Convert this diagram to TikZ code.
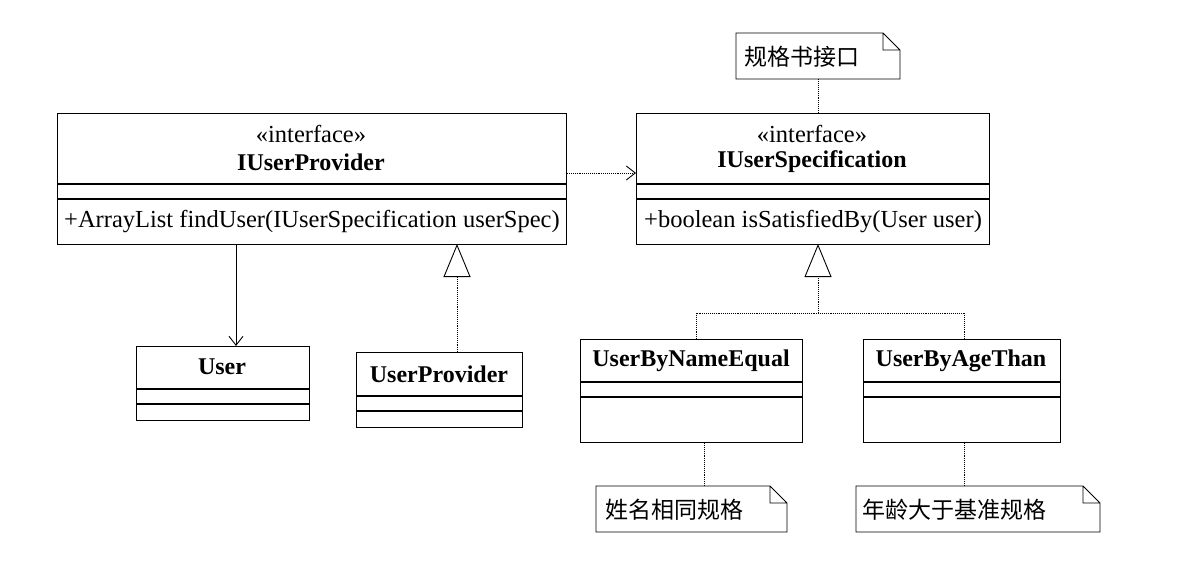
\documentclass[tikz,border=0pt]{standalone}
\usepackage{fontspec}
\setmainfont{Liberation Serif}
\newfontfamily\cjk{Noto Sans CJK SC}
\usetikzlibrary{arrows.meta}
\begin{document}
\begin{tikzpicture}[x=1pt,y=-1pt,
  box/.style={draw,line width=1.1pt,anchor=north west,inner sep=0pt},
  txt/.style={font=\fontsize{24.5}{26}\selectfont,inner sep=0pt},
  ctxt/.style={font=\cjk\fontsize{23}{26}\selectfont,inner sep=0pt,anchor=west},
  bname/.style={font=\fontsize{24}{26}\selectfont\bfseries,inner sep=0pt},
  note/.style={inner sep=0pt,anchor=north west},
  dot/.style={densely dotted,line width=0.9pt},
  dep/.style={dot,-{Straight Barb[length=9pt,width=14pt,line width=0.9pt]}},
  real/.style={dot,-{Triangle[open,length=33pt,width=27pt,line width=0.9pt,fill=white]}},
  assoc/.style={line width=0.9pt,-{Straight Barb[length=9pt,width=14pt,line width=0.9pt]}}]
\useasboundingbox (0,0) rectangle (1182,586);
\fill[white] (0,0) rectangle (1182,586);
\newcommand{\umlbox}[7]{% name,x1,y1,x2,y2,l1,l2
  \node[box,minimum width=#4-#2,minimum height=#5-#3] (#1) at (#2,#3) {};
  \draw[line width=1.1pt] (#2,#6) -- (#4,#6) (#2,#7) -- (#4,#7);}
\newcommand{\umlnote}[5]{% name,x1,y1,x2,y2
  \node[note,minimum width=#4-#2,minimum height=#5-#3] (#1) at (#2,#3) {};
  \draw[line width=0.9pt] (#2,#3) -- (#4-17,#3) -- (#4,#3+17) -- (#4,#5) -- (#2,#5) -- cycle
    (#4-17,#3) -- (#4-17,#3+17) -- (#4,#3+17);}
% boxes
\umlbox{iup}{57}{113}{566}{244}{184}{199}
\node[txt] at (311,134) {\textless\textless interface\textgreater\textgreater};
\node[bname] at (311,162) {IUserProvider};
\node[txt,anchor=west] at (64,222) {+ArrayList findUser(IUserSpecification userSpec)};
\umlbox{ius}{636}{113}{989}{244}{184}{199}
\node[txt] at (812,134) {\textless\textless interface\textgreater\textgreater};
\node[bname] at (812,162) {IUserSpecification};
\node[txt,anchor=west] at (644,222) {+boolean isSatisfiedBy(User user)};
\umlbox{user}{136}{346}{309}{420}{389}{404}
\node[bname] at (222,367) {User};
\umlbox{up}{356}{352}{522}{427}{396}{411}
\node[bname] at (439,374) {UserProvider};
\umlbox{une}{580}{339}{802}{442}{382}{397}
\node[bname] at (691,361) {UserByNameEqual};
\umlbox{uat}{863}{339}{1060}{442}{382}{397}
\node[bname] at (961,361) {UserByAgeThan};
% notes
\umlnote{n0}{736}{33}{900}{79}
\node[ctxt] at (744,57) {规格书接口};
\umlnote{n1}{596}{486}{787}{532}
\node[ctxt] at (605,510) {姓名相同规格};
\umlnote{n2}{856}{486}{1100}{532}
\node[ctxt] at (862,510) {年龄大于基准规格};
% connectors
\coordinate (depS) at (iup.east |- 0,173);
\coordinate (depE) at (ius.west |- 0,173);
\draw[dep] (depS) -- (depE);
\draw[assoc] (236,244) -- (user.north -| 236,0);
\draw[real] (up.north -| 457,0) -- (457,244);
\draw[real] (une.north -| 696,0) -- (696,313) -- (818,313) -- (818,244);
\draw[dot] (uat.north -| 964,0) -- (964,313) -- (818,313);
\draw[dot] (n0.south -| 818,0) -- (ius.north -| 818,0);
\draw[dot] (une.south -| 704,0) -- (n1.north -| 704,0);
\draw[dot] (uat.south -| 964,0) -- (n2.north -| 964,0);
\end{tikzpicture}
\end{document}
